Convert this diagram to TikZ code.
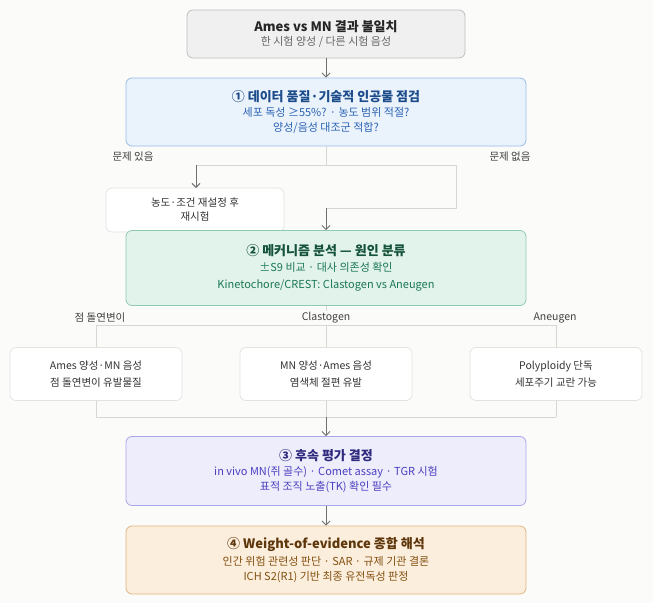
\documentclass[tikz,border=0pt]{standalone}
\usepackage{fontspec}
\setmainfont{Noto Sans CJK KR}
\usetikzlibrary{arrows.meta}
\definecolor{bg}{HTML}{FBFBF9}
\definecolor{line}{HTML}{D6D6D3}
\definecolor{arr}{HTML}{707070}
\definecolor{blueFill}{HTML}{EAF2FC}
\definecolor{blueDraw}{HTML}{96BDEB}
\definecolor{blueHead}{HTML}{1D4C8A}
\definecolor{blueText}{HTML}{2B63B3}
\definecolor{greenFill}{HTML}{E2F3EC}
\definecolor{greenDraw}{HTML}{8FCBB1}
\definecolor{greenHead}{HTML}{145239}
\definecolor{greenText}{HTML}{1B7853}
\definecolor{violetFill}{HTML}{EEEDFC}
\definecolor{violetDraw}{HTML}{ABA6EC}
\definecolor{violetHead}{HTML}{2F2A7E}
\definecolor{violetText}{HTML}{4A3FBF}
\definecolor{amberFill}{HTML}{FBEEDD}
\definecolor{amberDraw}{HTML}{E3B47C}
\definecolor{amberHead}{HTML}{5E360A}
\definecolor{amberText}{HTML}{84500F}
\newcommand{\cardtitle}{\fontsize{13}{16}\selectfont\bfseries}
\newcommand{\cardtext}{\fontsize{11}{13}\selectfont}
\tikzset{
    card/.style = {draw, rounded corners=6pt, line width=0.8pt, align=center, minimum width=400pt, inner sep=0pt},
    small-card/.style = {draw=line!70, fill=white, rounded corners=6pt, line width=0.7pt, align=center, minimum width=172pt, minimum height=53pt, font=\fontsize{10.5}{12}\selectfont, text=black!80},
    tag/.style = {fill=bg, font=\fontsize{10.5}{12}\selectfont, text=black!75, inner sep=2pt},
    link/.style = {draw=line, line width=1pt},
    flow/.style = {draw=arr, line width=0.9pt, -{Straight Barb[length=4pt,width=8pt]}},
}
\begin{document}
\begin{tikzpicture}[x=1pt, y=-1pt]
\fill[bg] (0,0) rectangle (653,603);
\useasboundingbox (0,0) rectangle (653,603);

\node[card, draw=black!25, fill=black!6, minimum width=278pt, minimum height=48pt] (start) at (326,34)
    {\textcolor{black!85}{\cardtitle Ames vs MN 결과 불일치}\\[2pt]
     \textcolor{black!60}{\cardtext 한 시험 양성 / 다른 시험 음성}};

\node[card, draw=blueDraw, fill=blueFill, minimum height=68pt] (check) at (326,112)
    {\textcolor{blueHead}{\cardtitle ① 데이터 품질·기술적 인공물 점검}\\[3pt]
     \textcolor{blueText}{\cardtext 세포 독성 ≥55\%? · 농도 범위 적절?}\\[3pt]
     \textcolor{blueText}{\cardtext 양성/음성 대조군 적합?}};

\node[small-card, minimum width=178pt, minimum height=44pt] (retry) at (195,210)
    {농도·조건 재설정 후\\[2pt]재시험};

\node[card, draw=greenDraw, fill=greenFill, minimum height=75pt] (mech) at (326,268)
    {\textcolor{greenHead}{\cardtitle ② 메커니즘 분석 — 원인 분류}\\[4pt]
     \textcolor{greenText}{\cardtext ±S9 비교 · 대사 의존성 확인}\\[5pt]
     \textcolor{greenText}{\cardtext Kinetochore/CREST: Clastogen vs Aneugen}};

\node[small-card] (point) at (96,374) {Ames 양성·MN 음성\\[5pt]점 돌연변이 유발물질};
\node[small-card] (clasto) at (326,374) {MN 양성·Ames 음성\\[5pt]염색체 절편 유발};
\node[small-card] (aneu) at (556,374) {Polyploidy 단독\\[5pt]세포주기 교란 가능};

\node[card, draw=violetDraw, fill=violetFill, minimum height=69pt] (follow) at (326,471)
    {\textcolor{violetHead}{\cardtitle ③ 후속 평가 결정}\\[3pt]
     \textcolor{violetText}{\cardtext in vivo MN(쥐 골수) · Comet assay · TGR 시험}\\[3pt]
     \textcolor{violetText}{\cardtext 표적 조직 노출(TK) 확인 필수}};

\node[card, draw=amberDraw, fill=amberFill, minimum height=68pt] (woe) at (326,560)
    {\textcolor{amberHead}{\cardtitle ④ Weight-of-evidence 종합 해석}\\[3pt]
     \textcolor{amberText}{\cardtext 인간 위험 관련성 판단 · SAR · 규제 기관 결론}\\[3pt]
     \textcolor{amberText}{\cardtext ICH S2(R1) 기반 최종 유전독성 판정}};

% branch points
\coordinate (split) at (326,165);
\coordinate (okturn) at (456,208);
\coordinate (fan) at (326,325);
\coordinate (merge) at (326,417);

\draw[flow] (start) -- (check);
\draw[link] (check) -- (split);
\draw[link] (196,165) -- (456,165) -- (okturn) -- (326,208);
\draw[flow] (196,164.5) -- (196,188);
\draw[flow] (326,207.5) -- (mech);
\node[tag] (issue) at (133,157) {문제 있음};
\node[tag] (noissue) at (510,157) {문제 없음};

\draw[link] (mech) -- (fan);
\draw[link] (96,325) -- (556,325);
\foreach \n in {point, clasto, aneu} {
    \draw[link] (\n.north |- fan) -- (\n.north);
    \draw[link] (\n.south) -- (\n.south |- merge);
}
\node[tag] (lpoint) at (100,318) {점 돌연변이};
\node[tag, inner xsep=8pt] (lclasto) at (326,318) {Clastogen};
\node[tag] (laneu) at (555,318) {Aneugen};
\draw[link] (96,417) -- (556,417);
\draw[flow] (326,416.5) -- (follow);
\draw[flow] (follow) -- (woe);
\end{tikzpicture}
\end{document}
